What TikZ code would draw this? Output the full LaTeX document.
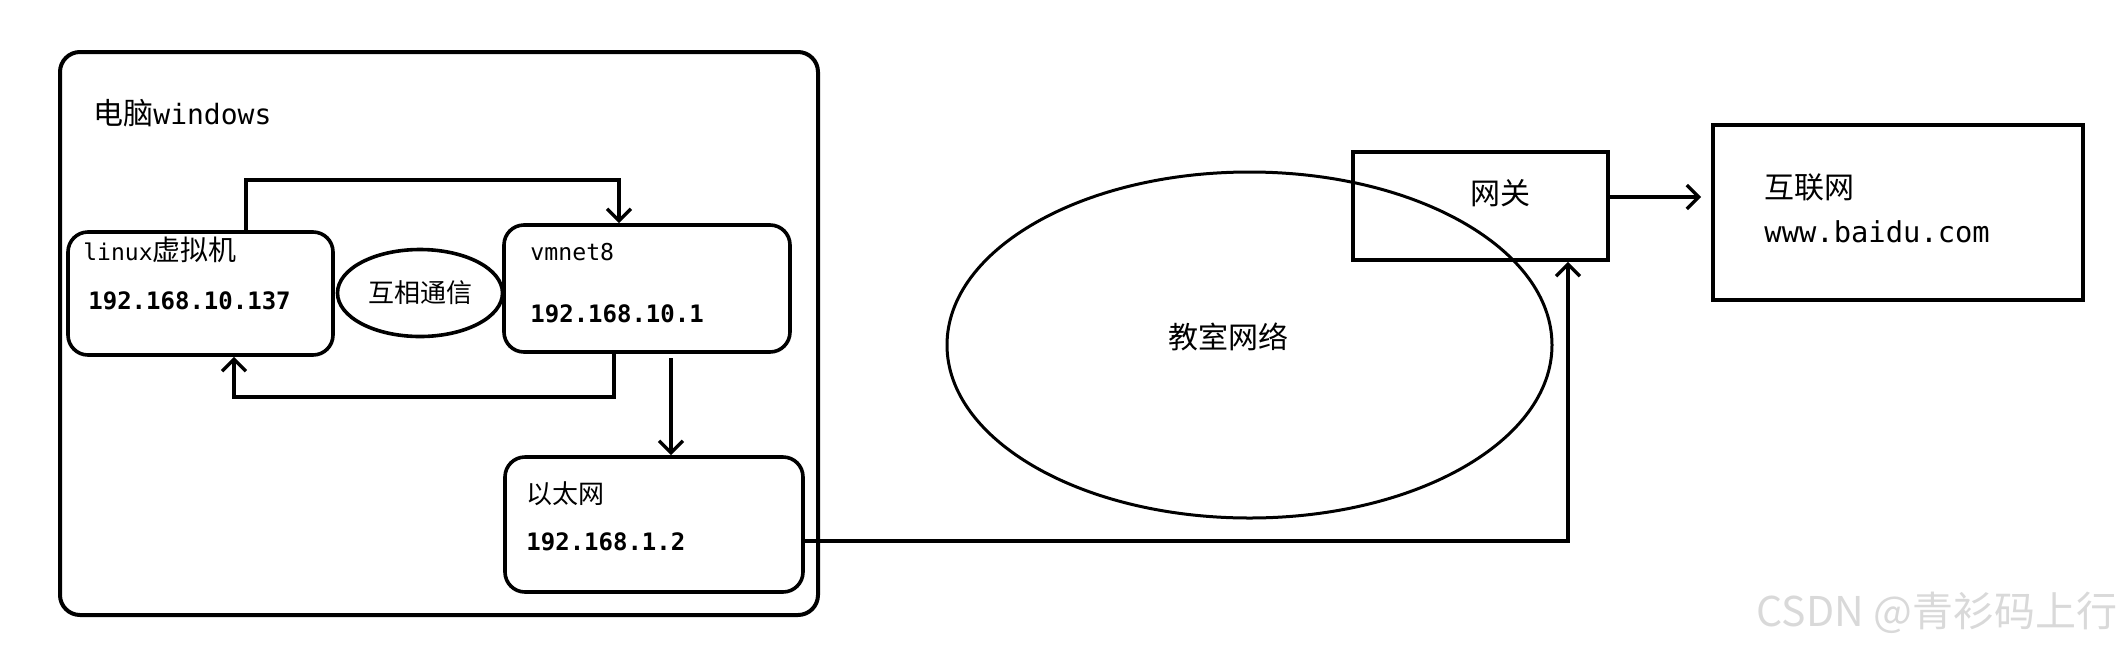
\documentclass[tikz,border=0pt]{standalone}
\usepackage{fontspec}
\setmainfont{Noto Sans CJK SC}
\setmonofont{DejaVu Sans Mono}
\usetikzlibrary{positioning, shapes.geometric, arrows.meta}

\begin{document}
\begin{tikzpicture}[x=0.5pt, y=-0.5pt,
    every node/.style={inner sep=0pt},
    rbox/.style={draw, line width=1.8pt, rounded corners=10pt},
    sbox/.style={draw, line width=1.8pt},
    oval/.style={draw, ellipse, line width=1.5pt},
    txt/.style={anchor=west, font=\fontsize{13pt}{16pt}\selectfont},
    ip/.style={anchor=west, font=\fontsize{12pt}{14pt}\selectfont\ttfamily\bfseries},
    arr/.style={line width=1.7pt, -{Straight Barb[length=6pt, width=12pt]}}]

    \useasboundingbox (0,0) rectangle (2125,649);

    \node[rbox, line width=2pt, minimum width=379pt, minimum height=281.5pt] (win) at (439,333.5) {};
    \node[txt, font=\fontsize{15pt}{18pt}\selectfont] (wintitle) at (93,113) {电脑{\fontsize{14pt}{16pt}\selectfont\ttfamily windows}};

    \node[rbox, minimum width=132.5pt, minimum height=61.5pt] (linux) at (200.5,293.5) {};
    \node[txt, font=\fontsize{14pt}{16pt}\selectfont] (linuxname) at (83,250) {{\fontsize{11.5pt}{14pt}\selectfont\ttfamily linux}虚拟机};
    \node[ip] (linuxip) at (88,301) {192.168.10.137};

    \node[oval, line width=1.8pt, minimum width=82.5pt, minimum height=43.5pt, font=\fontsize{13pt}{16pt}\selectfont] (talk) at (420,293) {互相通信};

    \node[rbox, minimum width=143pt, minimum height=63.5pt] (vmnet) at (647,288.5) {};
    \node[ip, font=\fontsize{11.6pt}{14pt}\selectfont\ttfamily] (vmnetname) at (530,252) {vmnet8};
    \node[ip] (vmnetip) at (530,314) {192.168.10.1};

    \node[rbox, minimum width=149pt, minimum height=67.5pt] (eth) at (654,524.5) {};
    \node[txt] (ethname) at (526,494) {以太网};
    \node[ip] (ethip) at (526,542) {192.168.1.2};

    \node[oval, minimum width=302.5pt, minimum height=173pt] (lan) at (1249.5,345) {};
    \node[font=\fontsize{15pt}{18pt}\selectfont] (lanname) at (1228,337) {教室网络};

    \node[sbox, minimum width=127.5pt, minimum height=54pt] (gw) at (1480.5,206) {};
    \node[font=\fontsize{15pt}{18pt}\selectfont] (gwname) at (1500,193) {网关};

    \node[sbox, minimum width=185pt, minimum height=87.5pt] (net) at (1898,212.5) {};
    \node[txt, font=\fontsize{15pt}{18pt}\selectfont] (netname) at (1764,187) {互联网};
    \node[ip, font=\fontsize{14.4pt}{17pt}\selectfont\ttfamily] (neturl) at (1764,232) {www.baidu.com};

    \node[text=gray!30, font=\fontsize{20.5pt}{24pt}\selectfont] (mark) at (1937,613) {CSDN @青衫码上行};

    \coordinate (c1) at (246,180);
    \coordinate (c2) at (619,180);
    \draw[arr] (linux.north -| c1) -- (c1) -- (c2) -- (vmnet.north -| c2);

    \coordinate (c3) at (614,397);
    \coordinate (c4) at (234,397);
    \draw[arr] (vmnet.south -| c3) -- (c3) -- (c4) -- (linux.south -| c4);

    \coordinate (c5) at (671,358);
    \draw[arr] (c5) -- (eth.north -| c5);

    \coordinate (c6) at (1568,541);
    \draw[arr] (eth.east |- c6) -- (c6) -- (gw.south -| c6);

    \coordinate (c7) at (1608,197);
    \draw[arr, shorten >=5pt] (gw.east |- c7) -- (net.west |- c7);
\end{tikzpicture}
\end{document}
